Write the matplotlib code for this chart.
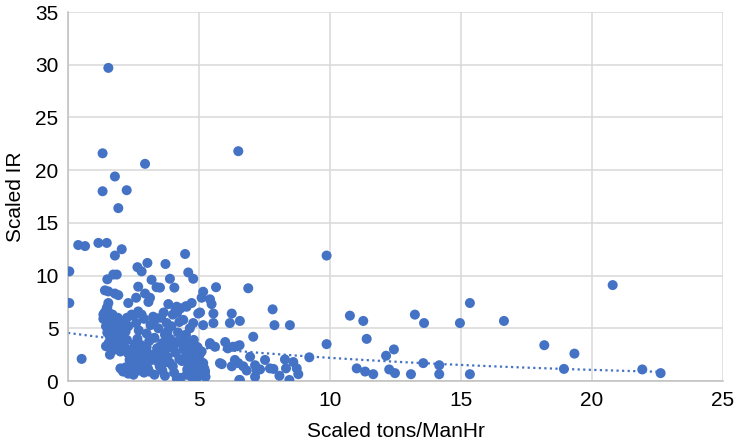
import numpy as np
import matplotlib.pyplot as plt

plt.rcParams['font.family'] = ['Liberation Sans', 'DejaVu Sans']

# scaled tons/ManHr (x) and scaled IR (y)
tons = [
    1.54, 1.32, 6.5, 2.94, 1.79, 1.32, 2.24, 1.92,
    0.39, 0.65, 1.16, 1.48, 2.05, 1.79, 0.05, 0.05, 0.52,
    3.03, 2.65, 2.81, 3.72, 4.47, 4.59, 4.78, 3.89,
    1.86, 1.73, 1.5, 3.19, 3.38, 2.68, 4.06, 3.51,
    1.41, 1.54, 1.79, 1.92, 2.3, 2.6, 2.94, 3.13, 3.07,
    5.16, 5.1, 5.42, 5.48, 5.65, 6.88,
    3.83, 4.15, 4.53, 4.72, 1.54, 1.48, 1.35, 1.6, 2.68, 2.43, 2.81,
    4.97, 5.55, 6.25, 4.78, 5.16, 5.55, 6.18, 6.56, 7.81, 7.88, 8.47,
    7.07, 5.42, 6.0, 6.1, 6.45, 6.55, 5.8, 6.25, 6.37, 6.5, 6.69, 6.82, 6.95, 7.14, 7.2, 6.56,
    4.85, 4.85, 5.1, 5.23, 4.72, 4.15, 4.53,
    9.87, 9.87, 9.21, 7.52, 7.71, 7.84, 8.07, 8.28, 8.32, 8.6, 8.73, 8.79, 8.45, 7.33, 7.14,
    10.76, 11.27, 11.4, 11.02, 11.34, 11.65, 12.14, 12.44, 12.26, 12.48,
    13.24, 13.59, 13.09, 13.56, 14.17, 14.17, 14.96, 15.34, 15.34, 16.64, 18.18, 19.33, 18.93, 20.79, 21.92, 22.62,
    3.77, 4.3, 4.17, 4.5, 5.04, 3.38, 3.26,
    4.9, 5.04, 5.16, 5.04, 5.23, 4.9, 5.42, 5.61, 5.87, 6.54, 6.3,
    1.35, 1.4, 1.45, 1.5, 1.6, 1.55, 1.45, 1.7, 1.6, 1.8, 1.75, 1.85, 1.9, 2.0, 2.05, 2.1,
    2.15, 2.2, 2.25, 2.3, 1.65, 1.95, 2.0, 1.5, 1.7, 1.9,
    2.0, 2.1, 2.2, 2.3, 2.45, 2.5, 2.6, 2.7, 2.8, 2.9, 2.35, 2.55, 2.75, 2.85, 3.0, 3.05,
    3.1, 3.2, 3.3,
    2.5, 2.6, 2.7, 2.65, 2.8, 2.9, 3.0, 3.1, 3.15, 3.25, 3.3, 3.4, 3.45, 3.5, 3.55, 3.6,
    3.7, 2.4, 2.55, 2.95,
    3.6, 3.7, 3.75, 3.8, 3.85, 3.9, 3.95, 4.0, 4.05, 4.1, 4.15, 4.2, 4.25, 4.3, 4.35, 4.4,
    4.45, 4.5, 4.55, 4.6, 4.65, 4.7, 4.75, 4.8, 4.85, 4.9, 4.95, 5.0, 5.05, 5.1, 5.2, 5.25,
    3.65, 4.0, 4.4, 4.1,
    2.3, 2.4, 2.6, 2.7, 2.9, 3.0, 3.2, 3.35, 3.45, 3.5, 3.55, 3.65, 3.8, 3.9, 4.05, 4.25,
    4.35, 4.5, 4.6, 4.7, 1.7, 1.8, 2.0, 2.2, 1.55, 2.1, 2.25,
]
ir = [
    29.7, 21.6, 21.8, 20.6, 19.4, 18.0, 18.1, 16.4,
    12.9, 12.8, 13.1, 13.1, 12.5, 11.9, 10.4, 7.4, 2.1,
    11.2, 10.8, 10.4, 11.1, 12.05, 10.3, 9.7, 9.7,
    10.1, 10.1, 9.65, 9.6, 8.9, 8.95, 8.86, 8.86,
    8.6, 8.5, 8.3, 8.15, 7.4, 7.9, 8.3, 7.9, 7.5,
    8.47, 7.9, 7.75, 7.3, 8.9, 8.8,
    7.3, 7.05, 7.05, 7.4, 7.4, 6.9, 6.3, 6.4, 6.6, 6.3, 6.3,
    6.4, 6.4, 6.4, 5.5, 5.3, 5.5, 5.5, 5.7, 6.8, 5.3, 5.3,
    4.2, 3.5, 3.7, 3.1, 3.3, 3.4, 1.7, 1.4, 2.0, 1.7, 1.4, 1.0, 2.3, 1.5, 1.0, 0.1,
    1.4, 0.9, 0.6, 0.9, 0.4, 0.25, 0.6,
    11.9, 3.5, 2.25, 2.0, 1.2, 1.15, 0.5, 2.05, 1.2, 1.8, 1.2, 0.65, 0.1, 1.1, 0.4,
    6.2, 5.7, 4.0, 1.2, 0.9, 0.65, 2.4, 3.0, 1.1, 0.75,
    6.3, 5.5, 0.65, 1.7, 1.5, 0.65, 5.5, 7.4, 0.65, 5.7, 3.4, 2.6, 1.15, 9.1, 1.1, 0.75,
    5.5, 6.9, 6.5, 7.1, 6.5, 5.95, 5.6,
    3.25, 2.6, 1.7, 0.9, 0.9, 0.25, 3.6, 3.25, 1.6, 0.1, 3.25,
    5.9, 6.5, 5.2, 4.6, 4.2, 3.6, 3.3, 2.9, 2.5, 3.1, 4.8, 5.4, 4.4, 5.0, 4.1, 3.6,
    5.6, 4.7, 3.9, 5.2, 5.7, 3.8, 2.8, 7.0, 6.3, 6.0,
    1.2, 0.9, 1.3, 0.7, 1.1, 0.6, 1.5, 1.0, 1.8, 0.8, 2.0, 2.3, 2.2, 1.4, 2.0, 1.2,
    0.9, 2.5, 0.6,
    6.2, 5.5, 4.8, 4.0, 3.4, 5.9, 4.5, 3.8, 5.3, 6.1, 4.1, 3.1, 5.0, 2.8, 6.0, 3.6,
    4.4, 3.0, 3.5, 2.9,
    1.0, 0.5, 1.8, 2.3, 3.2, 4.0, 5.2, 1.4, 0.8, 2.7, 3.7, 4.6, 5.6, 0.3, 1.9, 3.0,
    4.1, 2.3, 1.1, 3.5, 5.0, 2.0, 0.9, 3.9, 2.6, 1.5, 3.2, 0.5, 1.9, 2.8, 1.2, 0.4,
    6.5, 6.3, 5.8, 6.9,
    2.6, 1.8, 2.0, 3.0, 2.4, 3.2, 2.0, 2.2, 1.8, 1.4, 1.9, 2.7, 4.7, 1.7, 3.4, 2.1,
    3.8, 4.4, 1.6, 2.9, 3.8, 4.2, 3.3, 3.1, 5.3, 4.9, 6.0,
]

x = np.array(tons)
y = np.array(ir)

# exponential trendline, fitted on log(IR)
b, log_a = np.polyfit(x, np.log(y), 1)
xt = np.linspace(0, x.max(), 200)
yt = np.exp(log_a) * np.exp(b * xt)

blue = '#4472C4'

fig = plt.figure(figsize=(7.36, 4.4), dpi=100)
ax = fig.add_axes([0.0924, 0.134, 0.8899, 0.8387])

ax.scatter(x, y, s=52, color=blue, edgecolors='none', zorder=3)
ax.plot(xt, yt, linestyle=(0, (1, 1.5)), color=blue, linewidth=1.6, zorder=2)

ax.set_xlim(0, 25)
ax.set_ylim(0, 35)
ax.set_xticks(range(0, 26, 5))
ax.set_yticks(range(0, 36, 5))
ax.grid(True, color='#D9D9D9', linewidth=1.1)
ax.set_axisbelow(True)
for side in ['top', 'right']:
    ax.spines[side].set_visible(False)
for side in ['left', 'bottom']:
    ax.spines[side].set_color('#BFBFBF')
    ax.spines[side].set_linewidth(1.1)
ax.tick_params(length=0, labelsize=15, pad=7, colors='black')

ax.set_xlabel('Scaled tons/ManHr', fontsize=15, labelpad=9)
ax.set_ylabel('Scaled IR', fontsize=15, labelpad=7)

fig.savefig('out.png', dpi=100)
